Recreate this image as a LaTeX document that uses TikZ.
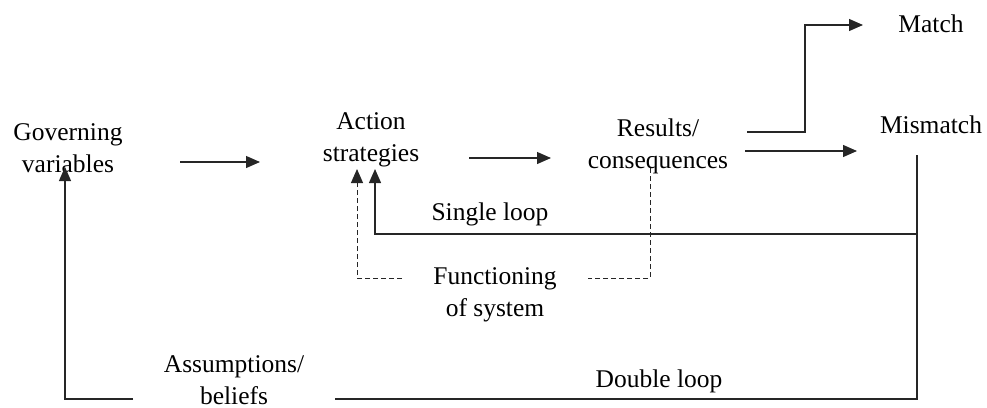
\documentclass[tikz,border=0pt]{standalone}
\usepackage{fontspec}
\setmainfont{Liberation Serif}
\usetikzlibrary{arrows.meta}
\newcommand{\twoline}[2]{\begin{tabular}[t]{@{}c@{}}#1\\#2\end{tabular}}
\tikzset{
  lbl/.style={anchor=base, inner sep=0pt, font=\fontsize{25.5}{32}\selectfont},
  conn/.style={line width=1.2pt, draw=black!85},
  tip/.style={-{Triangle[length=14pt,width=12pt]}},
  arr/.style={conn, tip},
  dsh/.style={conn, line width=1pt, dash pattern=on 5pt off 3pt},
}
\begin{document}
\begin{tikzpicture}[x=1pt,y=-1pt]
\useasboundingbox (0,0) rectangle (987,407);
% nodes
\node[lbl] (gv) at (68,140) {\twoline{Governing}{variables}};
\node[lbl] (as) at (371,129) {\twoline{Action}{strategies}};
\node[lbl] (rc) at (658,136) {\twoline{Results/}{consequences}};
\node[lbl] (match) at (931,32) {Match};
\node[lbl] (mis) at (931,133) {Mismatch};
\node[lbl] (sl) at (490,220) {Single loop};
\node[lbl] (fs) at (495,284) {\twoline{Functioning}{of system}};
\node[lbl] (ab) at (234,372) {\twoline{Assumptions/}{beliefs}};
\node[lbl] (dl) at (659,387) {Double loop};
% connector end points
\coordinate (a1s) at (180,162); \coordinate (a1e) at (260,162);
\coordinate (a2s) at (469,158); \coordinate (a2e) at (551,158);
\coordinate (m1s) at (747,132); \coordinate (m1k) at (805,25); \coordinate (m1e) at (863,25);
\coordinate (m2s) at (745,151); \coordinate (m2e) at (857,151);
\coordinate (mtop) at (917,155); \coordinate (sjoin) at (917,234);
\coordinate (scor) at (375,234); \coordinate (stip) at (375,169);
\coordinate (dtop) at (650,168); \coordinate (dcor) at (650,278); \coordinate (dgapr) at (588,278);
\coordinate (dgapl) at (402,278); \coordinate (dcor2) at (357,278); \coordinate (dtip) at (357,169);
\coordinate (bcor) at (917,399); \coordinate (bgapr) at (335,399);
\coordinate (bgapl) at (133,399); \coordinate (bcor2) at (65,399); \coordinate (btip) at (65,167);
% connectors
\draw[arr] (a1s) -- (a1e);
\draw[arr] (a2s) -- (a2e);
\draw[arr] (m1s) -| (m1k) -- (m1e);
\draw[arr] (m2s) -- (m2e);
\draw[conn] (mtop) -- (bcor) -- (bgapr);
\draw[arr] (sjoin) -- (scor) -- (stip);
\draw[dsh] (dtop) -- (dcor) -- (dgapr);
\draw[dsh, tip] (dgapl) -- (dcor2) -- (dtip);
\draw[arr] (bgapl) -- (bcor2) -- (btip);
\end{tikzpicture}
\end{document}
